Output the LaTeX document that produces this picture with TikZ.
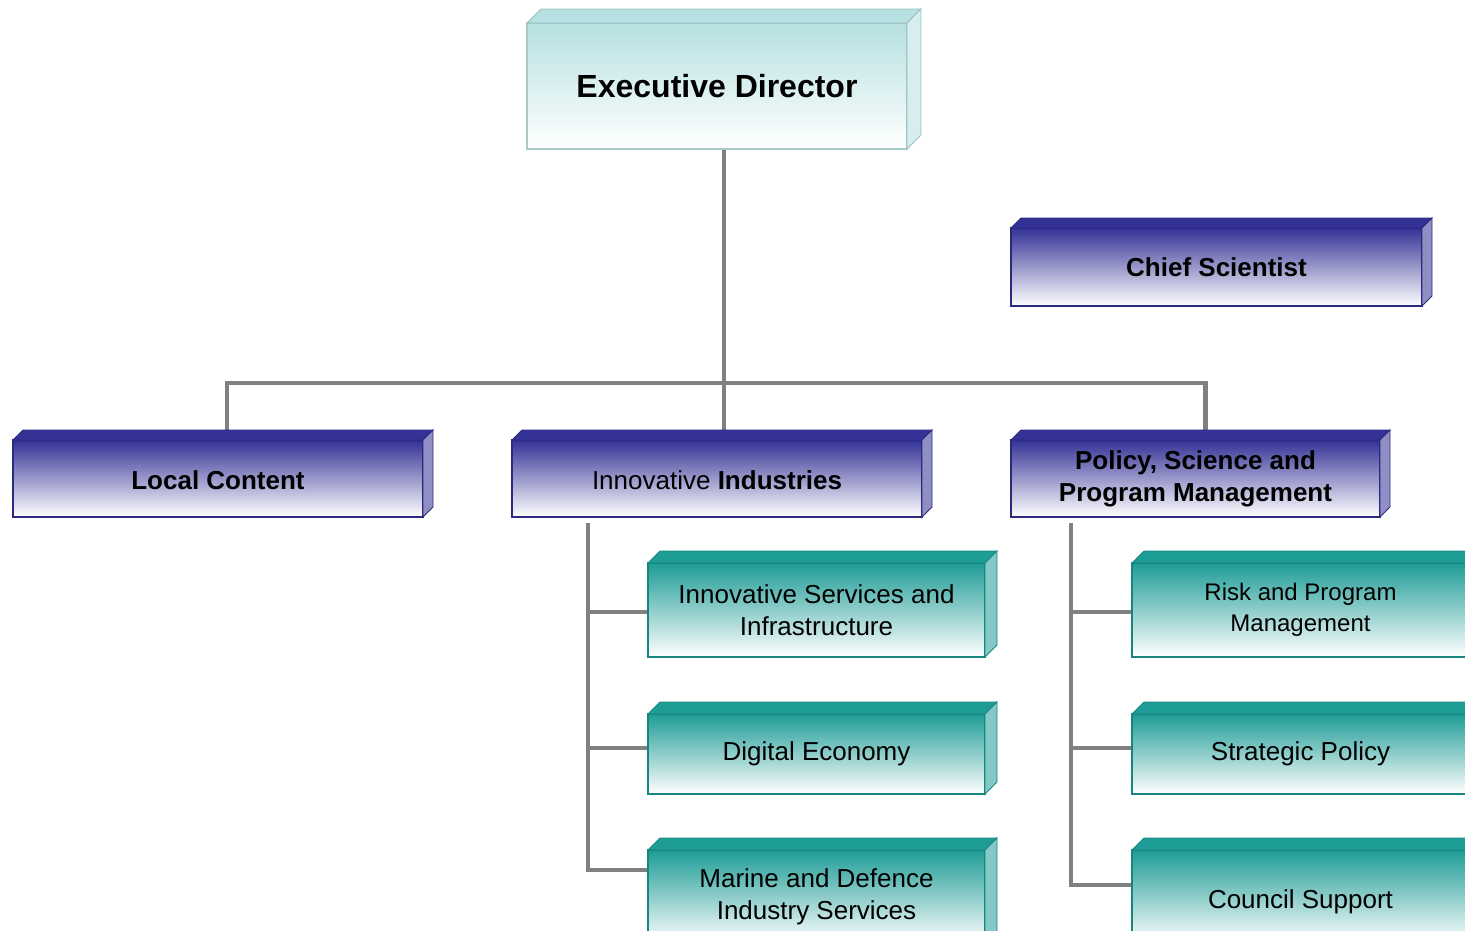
\documentclass[tikz,border=0pt]{standalone}
\usepackage{fontspec}
\setmainfont{Liberation Sans}
\usetikzlibrary{backgrounds}

\definecolor{indigobox}{RGB}{52,50,150}
\definecolor{tealbox}{RGB}{30,156,150}
\definecolor{cyanbox}{RGB}{182,224,225}
\definecolor{linkgray}{RGB}{128,128,128}

% lid and side of a box: node, depth, colour
\newcommand{\boxfaces}[3]{%
  \filldraw[fill=#3, draw=#3!85!black, line width=0.8pt]
    (#1.north west) -- ++(#2,-#2) -- ([shift={(#2,-#2)}]#1.north east) -- (#1.north east) -- cycle;
  \filldraw[fill=#3!55!white, draw=#3!85!black, line width=0.8pt]
    (#1.north east) -- ++(#2,-#2) -- ([shift={(#2,-#2)}]#1.south east) -- (#1.south east) -- cycle;
}

\begin{document}
\begin{tikzpicture}[x=1pt, y=-1pt, line join=miter,
    box/.style={draw=#1!85!black, line width=1.2pt, top color=#1, middle color=#1!40!white,
      bottom color=white, inner sep=0pt, outer sep=0pt, anchor=north west, align=center},
    title/.style={font=\fontsize{32}{38}\selectfont\bfseries},
    head/.style={font=\fontsize{26}{32}\selectfont\bfseries},
    unit/.style={font=\fontsize{26}{32}\selectfont},
    unitsmall/.style={font=\fontsize{24}{31}\selectfont},
    link/.style={draw=linkgray, line width=4.5pt}]
  \useasboundingbox (0,0) rectangle (1465,930);
  \clip (0,0) rectangle (1465,930);

  \node[box=cyanbox, draw=cyanbox!90!black, title, minimum width=380, minimum height=126] (ed) at (527,23) {Executive Director};
  \node[box=indigobox, head, minimum width=411, minimum height=78] (cs) at (1011,228) {Chief Scientist};

  \node[box=indigobox, head, minimum width=410, minimum height=77, text height=22pt, text depth=0pt] (lc) at (13,440) {Local Content};
  \node[box=indigobox, unit, minimum width=410, minimum height=77, text height=22pt, text depth=0pt] (ii) at (512,440) {Innovative \textbf{Industries}};
  \node[box=indigobox, head, minimum width=369, minimum height=77] (pm) at (1011,440) {Policy, Science and\\Program Management};

  \node[box=tealbox, unit, minimum width=337, minimum height=94] (is) at (648,563) {Innovative Services and\\Infrastructure};
  \node[box=tealbox, unit, minimum width=337, minimum height=80] (de) at (648,714) {Digital Economy};
  \node[box=tealbox, unit, minimum width=337, minimum height=94] (md) at (648,850) {Marine and Defence\\Industry Services};

  \node[box=tealbox, unitsmall, minimum width=337, minimum height=94] (rp) at (1132,563) {Risk and Program\\Management};
  \node[box=tealbox, unit, minimum width=337, minimum height=80] (sp) at (1132,714) {Strategic Policy};
  \node[box=tealbox, unit, minimum width=337, minimum height=94, text height=29pt, text depth=6pt] (cm) at (1132,850) {Council Support};

  \boxfaces{ed}{14}{cyanbox}
  \boxfaces{cs}{10}{indigobox}
  \boxfaces{lc}{10}{indigobox}
  \boxfaces{ii}{10}{indigobox}
  \boxfaces{pm}{10}{indigobox}
  \foreach \n in {is,de,md,rp,sp,cm}
    \boxfaces{\n}{12}{tealbox};

  \coordinate (bus) at (724,383);
  \coordinate (iitrunk) at (588,523);
  \coordinate (pmtrunk) at (1071,523);

  \begin{scope}[on background layer]
    \draw[link] ([xshift=7]ed.south) -- ([xshift=7]ii.north);
    \draw[link] ([xshift=9]lc.north) |- (bus) -| ([xshift=10]pm.north);
    % sections under Innovative Industries
    \draw[link] (iitrunk) |- ([yshift=-20]md.north west);
    \draw[link] (iitrunk |- is.west) ++(0,2) -- ++(60,0);
    \draw[link] (iitrunk |- de.west) ++(0,-6) -- ++(60,0);
    % sections under Policy, Science and Program Management
    \draw[link] (pmtrunk) |- ([yshift=-35]cm.north west);
    \draw[link] (pmtrunk |- rp.west) ++(0,2) -- ++(61,0);
    \draw[link] (pmtrunk |- sp.west) ++(0,-6) -- ++(61,0);
  \end{scope}
\end{tikzpicture}
\end{document}
